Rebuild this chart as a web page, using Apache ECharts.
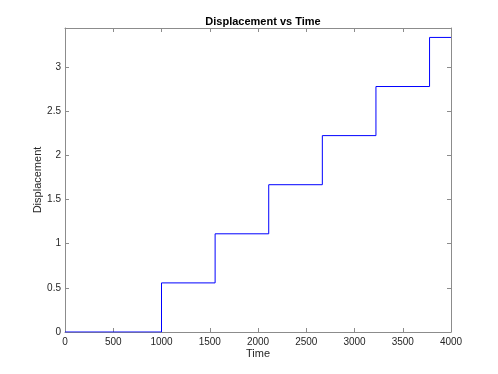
<!DOCTYPE html>
<html>
<head>
<meta charset="utf-8">
<script src="https://cdn.jsdelivr.net/npm/echarts@6/dist/echarts.min.js"></script>
<style>
  html, body { margin: 0; padding: 0; background: #ffffff; }
  #chart { width: 498px; height: 374px; }
</style>
</head>
<body>
<div id="chart"></div>
<script>
// step times and displacement levels
const stepTimes = [0, 1000, 1555.6, 2111.1, 2666.7, 3222.2, 3777.8, 4000];
const stepValues = [0, 0.5556, 1.1111, 1.6667, 2.2222, 2.7778, 3.3333, 3.3333];
const xTicks = [0, 500, 1000, 1500, 2000, 2500, 3000, 3500, 4000];
const yTicks = [0, 0.5, 1, 1.5, 2, 2.5, 3];

const chart = echarts.init(document.getElementById('chart'));

const fontFamily = 'Liberation Sans, Arial, sans-serif';
const axisGray = '#8c8c8c';

// MATLAB-like box: ticks pointing inward on all four sides
function boxAxis(extra) {
    return Object.assign({
        axisLine: { show: true, onZero: false, lineStyle: { color: axisGray, width: 1 } },
        axisTick: { show: true, inside: true, length: 4, lineStyle: { color: axisGray } },
        splitLine: { show: false }
    }, extra);
}

const option = {
    backgroundColor: '#ffffff',
    animation: false,
    title: {
        text: 'Displacement vs Time',
        left: 258,
        top: 11,
        textAlign: 'center',
        textStyle: { fontFamily: fontFamily, fontSize: 11, fontWeight: 'bold', color: '#000000' }
    },
    grid: { left: 65, right: 47, top: 28, bottom: 42 },
    xAxis: [
        boxAxis({
            type: 'value',
            min: 0,
            max: 4000,
            interval: 500,
            position: 'bottom',
            name: 'Time',
            nameLocation: 'middle',
            nameGap: 16,
            nameMoveOverlap: false,
            nameTextStyle: { fontFamily: fontFamily, fontSize: 11, color: '#262626' },
            axisLabel: {
                fontFamily: fontFamily, fontSize: 10, color: '#262626', margin: 5,
                formatter: function (v) { return xTicks.indexOf(v) >= 0 ? String(v) : ''; }
            }
        }),
        boxAxis({
            type: 'value',
            min: 0,
            max: 4000,
            interval: 500,
            position: 'top',
            axisLabel: { show: false }
        })
    ],
    yAxis: [
        boxAxis({
            type: 'value',
            min: 0,
            max: 3.44,
            interval: 0.5,
            position: 'left',
            name: 'Displacement',
            nameLocation: 'middle',
            nameGap: 22,
            nameMoveOverlap: false,
            nameRotate: 90,
            nameTextStyle: { fontFamily: fontFamily, fontSize: 11, color: '#262626' },
            axisLabel: {
                fontFamily: fontFamily, fontSize: 10, color: '#262626', margin: 4,
                showMaxLabel: false,
                formatter: function (v) { return yTicks.indexOf(v) >= 0 ? String(v) : ''; }
            }
        }),
        boxAxis({
            type: 'value',
            min: 0,
            max: 3.44,
            interval: 0.5,
            position: 'right',
            axisLabel: { show: false }
        })
    ],
    series: [{
        type: 'line',
        step: 'end',
        data: stepTimes.map(function (t, i) { return [t, stepValues[i]]; }),
        showSymbol: false,
        symbol: 'none',
        lineStyle: { color: '#0000ff', width: 1 }
    }]
};

chart.setOption(option);
</script>
</body>
</html>
